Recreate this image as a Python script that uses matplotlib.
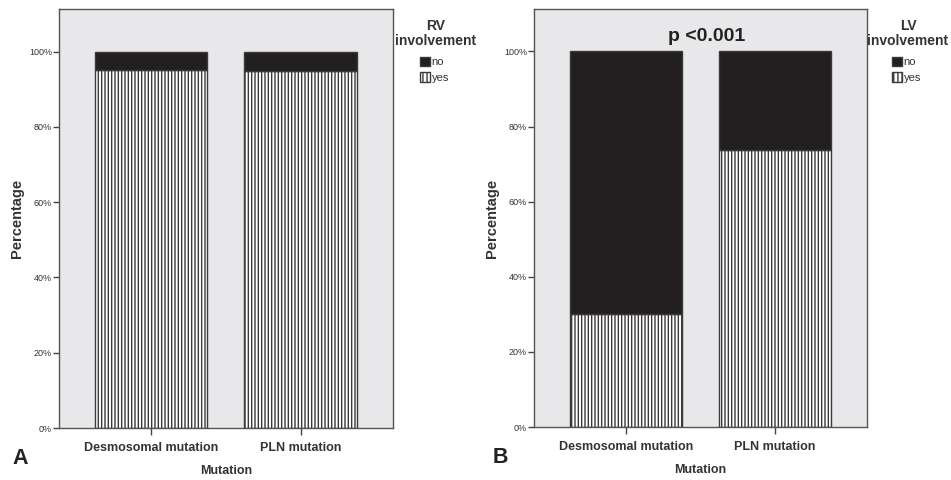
import matplotlib
matplotlib.use("Agg")
import matplotlib.pyplot as plt
from matplotlib.patches import Patch

plt.rcParams['font.family'] = ['Liberation Sans', 'DejaVu Sans']
plt.rcParams['hatch.linewidth'] = 1.0
plt.rcParams['hatch.color'] = '#5e5e5e'

categories = ['Desmosomal mutation', 'PLN mutation']
rv_yes = [95.2, 94.7]
lv_yes = [30.2, 73.7]
legend_labels = ['no', 'yes']
yticks = [0, 20, 40, 60, 80, 100]
ytick_labels = ['0%', '20%', '40%', '60%', '80%', '100%']

W, H = 951, 480
fig = plt.figure(figsize=(W / 100, H / 100), dpi=100)
panels = [
    # values, legend title, letter, axes rect, annotation, title centre x px, handle left px, letter x (axes frac)
    (rv_yes, 'RV\ninvolvement', 'A', [0.062, 0.1083, 0.351, 0.873], None, 436, 420, -0.138),
    (lv_yes, 'LV\ninvolvement', 'B', [0.5615, 0.1104, 0.350, 0.871], 'p <0.001', 908, 892, -0.123),
]
bg = '#e8e8ea'
dark = '#231f20'
edge = '#3a3a3a'
for yes, ltitle, letter, pos, ptext, tx, hx, lx in panels:
    ax = fig.add_axes(pos)
    ax.set_facecolor(bg)
    x = list(range(len(categories)))
    no = [100 - v for v in yes]
    ax.bar(x, yes, width=0.753, color='white', edgecolor=edge, hatch='|||||', linewidth=1.0)
    ax.bar(x, no, bottom=yes, width=0.753, color=dark, edgecolor=edge, linewidth=1.0)
    ax.set_xlim(-0.615, 1.615)
    ax.set_ylim(0, 111.3)
    ax.set_yticks(yticks)
    ax.set_yticklabels(ytick_labels, fontsize=6.5, color='#333333')
    ax.set_xticks(x)
    ax.set_xticklabels(categories, fontsize=9, fontweight='bold', color='#333333')
    ax.tick_params(axis='y', length=4, width=1.0, color='#444444', pad=1)
    ax.tick_params(axis='x', length=5, width=1.0, color='#444444', pad=5)
    for s in ax.spines.values():
        s.set_color('#555555')
        s.set_linewidth(1.0)
    ax.set_xlabel('Mutation', fontsize=9, fontweight='bold', color='#333333', labelpad=8)
    ax.set_ylabel('Percentage', fontsize=10.5, fontweight='bold', color='#333333')
    ax.yaxis.set_label_coords(-0.104, 0.5)

    fig.text(tx / W, 1 - 33.5 / H, ltitle, fontsize=10, fontweight='bold', color='#333333',
             ha='center', va='center', multialignment='center', linespacing=1.1)
    handles = [Patch(facecolor=dark, edgecolor=edge, label=legend_labels[0]),
               Patch(facecolor='white', edgecolor=edge, hatch='||||', label=legend_labels[1])]
    leg = fig.legend(handles=handles, loc='upper left', bbox_to_anchor=(hx / W, 1 - 56.5 / H),
                     frameon=False, fontsize=8, handlelength=0.9, handleheight=1.0,
                     handletextpad=0.15, labelspacing=0.45, borderaxespad=0.0, borderpad=0.0)
    for t in leg.get_texts():
        t.set_color('#333333')

    ax.text(lx, -0.072, letter, transform=ax.transAxes, fontsize=15.5, fontweight='bold',
            color='#222222', va='center', ha='left')
    if ptext:
        ax.text(0.54, 104.0, ptext, fontsize=14, fontweight='bold', color='#222222',
                ha='center', va='center')

fig.savefig('out.png', dpi=100, facecolor='white')
